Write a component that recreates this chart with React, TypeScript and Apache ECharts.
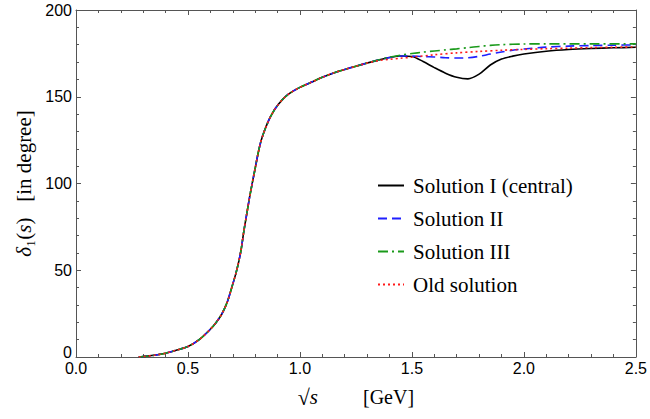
import React, { useEffect, useRef } from "react";
import * as echarts from "echarts";

// Shared low-energy part (all four solutions coincide)
const xCommon = [0.28, 0.3, 0.35, 0.4, 0.45, 0.5, 0.55, 0.6, 0.625, 0.65, 0.675, 0.7, 0.7125, 0.725, 0.7375, 0.75, 0.7625, 0.775, 0.7875, 0.8, 0.8125, 0.825, 0.8375, 0.85, 0.8625, 0.875, 0.8875, 0.9, 0.925, 0.95, 0.975, 1.0, 1.05, 1.1, 1.15, 1.2, 1.25, 1.3];
const yCommon = [0, 0.3, 1, 2.2, 4.0, 6.0, 10, 16, 19.8, 24.5, 31.5, 42, 47.5, 54, 62, 73, 82.5, 92, 100.5, 108.7, 117, 124, 129, 133.2, 137, 140, 142.8, 145, 148.8, 151.6, 153.7, 155.4, 158.3, 161.2, 163.7, 165.7, 167.6, 169.4];

// High-energy tails
const xSol1 = [1.35, 1.4, 1.45, 1.5, 1.55, 1.6, 1.65, 1.7, 1.75, 1.8, 1.85, 1.9, 1.95, 2.0, 2.1, 2.2, 2.3, 2.4, 2.5];
const ySol1 = [171.1, 172.6, 173.5, 173.2, 170.3, 166.8, 163.6, 161.2, 160.3, 163.0, 168.3, 171.7, 173.4, 174.6, 176.2, 177.2, 177.8, 178.2, 178.5];

const xSol2 = [1.35, 1.4, 1.45, 1.5, 1.55, 1.6, 1.65, 1.7, 1.75, 1.8, 1.85, 1.9, 1.95, 2.0, 2.1, 2.2, 2.3, 2.4, 2.5];
const ySol2 = [171.1, 172.6, 173.5, 173.4, 173.2, 172.9, 172.5, 172.3, 172.5, 173.3, 174.6, 175.8, 176.8, 177.5, 178.6, 179.2, 179.5, 179.7, 179.9];

const xSol3 = [1.35, 1.4, 1.45, 1.5, 1.55, 1.6, 1.65, 1.7, 1.75, 1.8, 1.85, 1.9, 2.0, 2.1, 2.3, 2.5];
const ySol3 = [171.2, 172.8, 174.0, 174.9, 175.7, 176.4, 177.0, 177.6, 178.3, 179.0, 179.6, 180.0, 180.4, 180.5, 180.5, 180.5];

const xOld = [1.35, 1.4, 1.45, 1.5, 1.6, 1.7, 1.8, 1.9, 2.0, 2.1, 2.2, 2.3, 2.4, 2.5];
const yOld = [170.8, 171.6, 172.2, 172.8, 174.2, 175.3, 176.1, 176.8, 177.3, 177.7, 178.0, 178.3, 178.5, 178.7];

const seriesNames = ["Solution I (central)", "Solution II", "Solution III", "Old solution"];
const seriesColors = ["#000000", "#1f1fff", "#1a9a1a", "#ff1a1a"];

const xTicks = [0, 0.5, 1.0, 1.5, 2.0, 2.5];
const yTicks = [0, 50, 100, 150, 200];

function build(xs: number[], ys: number[]) {
  const out: number[][] = [];
  xCommon.forEach((x, i) => out.push([x, yCommon[i]]));
  xs.forEach((x, i) => out.push([x, ys[i]]));
  return out;
}

export default function App() {
  const ref = useRef<HTMLDivElement>(null);
  useEffect(() => {
    if (!ref.current) return;
    const chart = echarts.init(ref.current, null, { renderer: "svg" });
    const frame = "#555555";
    const tickCommon = {
      axisLine: { show: true, onZero: false, lineStyle: { color: frame, width: 1 } },
      axisTick: { show: true, inside: true, length: 5, lineStyle: { color: frame } },
      minorTick: { show: true, splitNumber: 5, length: 3, lineStyle: { color: frame } },
      splitLine: { show: false },
      minorSplitLine: { show: false },
    };
    const serif = "'Liberation Serif', 'DejaVu Serif', serif";
    const sans = "'Liberation Sans', Arial, sans-serif";
    const tails: [number[], number[]][] = [
      [xSol1, ySol1],
      [xSol2, ySol2],
      [xSol3, ySol3],
      [xOld, yOld],
    ];
    const dashTypes: any[] = ["solid", [9, 5], [10, 4, 2, 4], [2, 3]];
    chart.setOption({
      animation: false,
      grid: { left: 76, right: 12, top: 10, bottom: 62 },
      xAxis: [
        {
          type: "value",
          min: xTicks[0],
          max: xTicks[xTicks.length - 1],
          interval: 0.5,
          position: "bottom",
          ...tickCommon,
          axisLabel: {
            show: true,
            formatter: (v: number) => v.toFixed(1),
            color: "#000",
            fontFamily: sans,
            fontSize: 16,
            margin: 3,
          },
          name: "{r|√}{i|s}{n|         [GeV]}",
          nameLocation: "middle",
          nameGap: 29,
          nameTextStyle: {
            fontFamily: serif,
            fontSize: 20,
            color: "#000",
            rich: {
              r: { fontFamily: serif, fontSize: 22, color: "#000" },
              i: { fontFamily: serif, fontSize: 21, fontStyle: "italic", color: "#000" },
              n: { fontFamily: serif, fontSize: 20, color: "#000" },
            },
          },
        },
        {
          type: "value",
          min: xTicks[0],
          max: xTicks[xTicks.length - 1],
          interval: 0.5,
          position: "top",
          ...tickCommon,
          axisLabel: { show: false },
        },
      ],
      yAxis: [
        {
          type: "value",
          min: yTicks[0],
          max: yTicks[yTicks.length - 1],
          interval: 50,
          position: "left",
          ...tickCommon,
          axisLabel: {
            show: true,
            color: "#000",
            fontFamily: sans,
            fontSize: 16,
            margin: 4,
            formatter: (v: number) => (v === 0 ? "{z|0}" : String(v)),
            rich: {
              z: { fontFamily: sans, fontSize: 16, color: "#000", padding: [0, 0, 10, 0] },
            },
          },
          name: "{i|δ}{n|₁(}{i|s}{n|)   [in degree]}",
          nameLocation: "middle",
          nameGap: 39,
          nameTextStyle: {
            fontFamily: serif,
            fontSize: 20,
            color: "#000",
            rich: {
              i: { fontFamily: serif, fontSize: 21, fontStyle: "italic", color: "#000" },
              n: { fontFamily: serif, fontSize: 21, color: "#000" },
            },
          },
        },
        {
          type: "value",
          min: yTicks[0],
          max: yTicks[yTicks.length - 1],
          interval: 50,
          position: "right",
          ...tickCommon,
          axisLabel: { show: false },
        },
      ],
      legend: {
        orient: "vertical",
        left: 372,
        top: 170,
        itemWidth: 26,
        itemHeight: 14,
        itemGap: 12,
        data: seriesNames,
        itemStyle: { color: "rgba(0,0,0,0)", borderColor: "rgba(0,0,0,0)", borderWidth: 0 },
        textStyle: {
          fontFamily: serif,
          fontSize: 21,
          lineHeight: 20,
          color: "#000",
          padding: [0, 0, 0, 4],
        },
      },
      series: seriesNames.map((name, i) => ({
        name,
        type: "line",
        data: build(tails[i][0], tails[i][1]),
        showSymbol: false,
        symbol: "none",
        smooth: 0.3,
        z: 2 + i,
        lineStyle: { color: seriesColors[i], width: 1.6, type: dashTypes[i] },
        itemStyle: { color: seriesColors[i] },
      })),
    });
    return () => chart.dispose();
  }, []);
  return <div ref={ref} style={{ width: 650, height: 419, position: "absolute", left: 0, top: 0 }} />;
}
